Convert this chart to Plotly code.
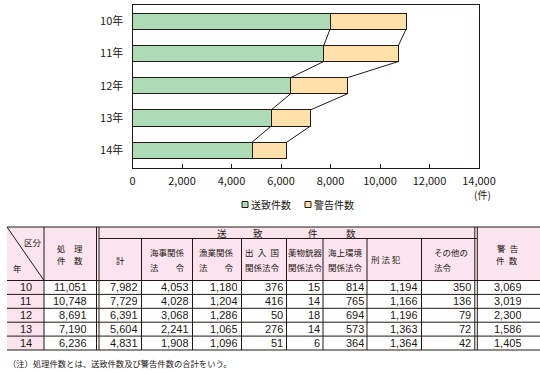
import plotly.graph_objects as go

# ---------------- data ----------------
years = ["10", "11", "12", "13", "14"]
year_labels = ["10年", "11年", "12年", "13年", "14年"]
shori = [11051, 10748, 8691, 7190, 6236]          # 処理件数
souchi = [7982, 7729, 6391, 5604, 4831]           # 送致件数 計
kaiji = [4053, 4028, 3068, 2241, 1908]            # 海事関係法令
gyogyo = [1180, 1204, 1286, 1065, 1096]           # 漁業関係法令
shutsunyu = [376, 416, 50, 276, 51]               # 出入国関係法令
yakubutsu = [15, 14, 18, 14, 6]                   # 薬物銃器関係法令
kaijo = [814, 765, 694, 573, 364]                 # 海上環境関係法令
keiho = [1194, 1166, 1196, 1363, 1364]            # 刑法犯
sonota = [350, 136, 79, 72, 42]                   # その他の法令
keikoku = [3069, 3019, 2300, 1586, 1405]          # 警告件数
x_ticks = [0, 2000, 4000, 6000, 8000, 10000, 12000, 14000]

W, H = 540, 371
FONT = "Noto Sans CJK JP"
NUMFONT = "Liberation Sans"
INK = "#231815"
GREEN = "#ADDBB5"
ORANGE = "#FFDFAA"
PINK = "#FCE4EE"


def X(px):
    return px / W


def Y(py):
    return 1 - py / H


fig = go.Figure()
ypos = list(range(len(years)))
fig.add_trace(go.Bar(y=ypos, x=souchi, orientation="h", width=0.5, name="送致件数",
                     marker=dict(color=GREEN, line=dict(color=INK, width=1))))
fig.add_trace(go.Bar(y=ypos, x=keikoku, orientation="h", width=0.5, name="警告件数",
                     marker=dict(color=ORANGE, line=dict(color=INK, width=1))))

# connector lines between successive bars
cx, cy = [], []
totals = [a + b for a, b in zip(souchi, keikoku)]
for series in (souchi, totals):
    for i in range(len(years) - 1):
        cx += [series[i], series[i + 1], None]
        cy += [i + 0.25, i + 0.75, None]
fig.add_trace(go.Scatter(x=cx, y=cy, mode="lines", line=dict(color=INK, width=1),
                         hoverinfo="skip", showlegend=False))

fig.update_layout(
    template="none",
    width=W, height=H, autosize=False, margin=dict(l=0, r=0, t=0, b=0, pad=0),
    paper_bgcolor="white", plot_bgcolor="white",
    barmode="stack", showlegend=False,
    font=dict(family=FONT, color=INK, size=11),
    xaxis=dict(domain=[X(132.5), X(479)], range=[0, 14000], tickvals=x_ticks,
               tickformat=",d", ticks="inside", ticklen=4, tickcolor=INK,
               showline=True, linecolor=INK, linewidth=1, mirror=True, automargin=False,
               showgrid=False, zeroline=False, tickfont=dict(size=11),
               ticklabelstandoff=3),
    yaxis=dict(domain=[Y(168), Y(5)], range=[4.55, -0.5], tickvals=ypos,
               ticktext=year_labels, showline=True, linecolor=INK, linewidth=1,
               mirror=True, showgrid=False, zeroline=False, ticks="", automargin=False,
               tickfont=dict(size=11), ticklabelstandoff=6),
)

shapes = []
ann = []


def text(x, y, s, size=8.5, xa="center", h=None, family=FONT):
    a = dict(x=X(x), y=Y(y), xref="paper", yref="paper", text=s, showarrow=False,
             xanchor=xa, yanchor="middle", borderpad=0,
             font=dict(size=size, color=INK, family=family))
    if h is not None:
        a["height"] = h
    ann.append(a)


def line(x0, y0, x1, y1, w=1):
    shapes.append(dict(type="line", xref="paper", yref="paper", x0=X(x0), y0=Y(y0),
                       x1=X(x1), y1=Y(y1), line=dict(color=INK, width=w)))


def rect(x0, y0, x1, y1, color, outline=False):
    shapes.append(dict(type="rect", xref="paper", yref="paper", x0=X(x0), y0=Y(y0),
                       x1=X(x1), y1=Y(y1), fillcolor=color,
                       line=dict(color=INK, width=1) if outline else dict(width=0),
                       layer="above" if outline else "below"))


# ----- "(件)" unit & legend -----
text(482, 195, "(件)", size=10)
rect(242, 201.5, 248, 207.5, GREEN, outline=True)
text(250, 204.5, "送致件数", size=10, xa="left")
rect(305, 201.5, 311, 207.5, ORANGE, outline=True)
text(313, 204.5, "警告件数", size=10, xa="left")

# ----- table -----
cols = [7, 44, 96.5, 141.5, 192.5, 241.5, 286.5, 323, 367, 421.5, 474.8, 540]
T, SUB, HB = 227, 238.5, 280.5
RH = 13.9
BOT = HB + RH * 5

rect(7, T, 540, HB, PINK)
rect(7, HB, 44, BOT, PINK)

line(7, T, 540, T)
line(99, SUB, 477.3, SUB)
line(7, HB, 540, HB)
for r in range(1, 5):
    line(7, HB + RH * r, 540, HB + RH * r)
line(7, BOT, 540, BOT)
for xv in (44, 96.5, 99, 474.8, 477.3):
    line(xv, T, xv, BOT)
for xv in cols[3:10]:
    line(xv, SUB, xv, BOT)
line(7, T, 44, HB)

# header texts
HH = 11
text(33, 241, "区分", h=HH)
text(17, 267, "年", h=HH)
text(70, 247.5, "処　理", h=HH)
text(70, 259.5, "件　数", h=HH)
for ch, xc in zip(["送", "致", "件", "数"], [221.7, 258, 312.5, 351]):
    text(xc, 232.5, ch, size=9.5, h=HH)
text(120, 259, "計", h=HH)
text(167, 252, "海事関係", h=HH)
text(167, 266, "法　　令", h=HH)
text(216, 252, "漁業関係", h=HH)
text(216, 266, "法　　令", h=HH)
text(262, 252, "出\u2002入\u2002国", h=HH)
text(262, 266, "関係法令", h=HH)
text(305, 252, "薬物銃器", h=HH)
text(305, 266, "関係法令", h=HH)
text(345, 252, "海上環境", h=HH)
text(345, 266, "関係法令", h=HH)
text(386, 258, "刑 法 犯", h=HH)
text(432.5, 252, "その他の", xa="left", h=HH)
text(432.5, 266, "法令", xa="left", h=HH)
text(507, 247.5, "警\u2002告", h=HH)
text(507, 259.5, "件\u2002数", h=HH)

# body
BH = 12.5
body = [souchi, kaiji, gyogyo, shutsunyu, yakubutsu, kaijo, keiho, sonota]
for i in range(len(years)):
    yc = HB + RH * (i + 0.5)
    text(25.5, yc, years[i], size=11, h=BH, family=NUMFONT)
    text(87.5, yc, f"{shori[i]:,}", size=11, xa="right", h=BH, family=NUMFONT)
    for j, series in enumerate(body):
        text(cols[3 + j] - 2.5, yc, f"{series[i]:,}", size=11, xa="right", h=BH,
             family=NUMFONT)
    text(507.5, yc, f"{keikoku[i]:,}", size=11, h=BH, family=NUMFONT)

text(7, 363, "（注）処理件数とは、送致件数及び警告件数の合計をいう。", size=8.3, xa="left")

fig.update_layout(shapes=shapes, annotations=ann)
fig.write_html("out.html", config={"displayModeBar": False, "responsive": False},
               post_script="document.body.style.margin='0';document.body.style.overflow='hidden';")
